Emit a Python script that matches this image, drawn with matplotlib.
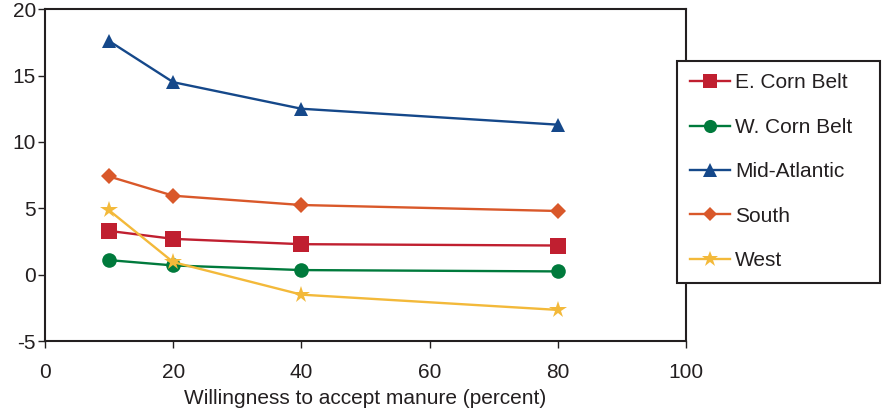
import matplotlib.pyplot as plt

plt.rcParams['font.family'] = ['Liberation Sans', 'DejaVu Sans']
plt.rcParams['axes.unicode_minus'] = False

# willingness to accept manure (percent)
willingness = [10, 20, 40, 80]

regions = ["E. Corn Belt", "W. Corn Belt", "Mid-Atlantic", "South", "West"]
e_corn_belt = [3.3, 2.7, 2.3, 2.2]
w_corn_belt = [1.1, 0.7, 0.35, 0.25]
mid_atlantic = [17.6, 14.5, 12.5, 11.3]
south = [7.4, 5.95, 5.25, 4.8]
west = [4.85, 0.95, -1.5, -2.65]

series = [e_corn_belt, w_corn_belt, mid_atlantic, south, west]
colors = ["#C01F30", "#007A3C", "#15488A", "#D9582A", "#F3B93A"]
markers = ["s", "o", "^", "D", "*"]
sizes = [11, 10.5, 10.5, 8, 13]
ink = "#231f20"

fig = plt.figure(figsize=(8.82, 4.16), dpi=100)
ax = fig.add_axes([0.051, 0.180, 0.7268, 0.798])

for name, vals, c, m, s in zip(regions, series, colors, markers, sizes):
    ax.plot(willingness, vals, color=c, marker=m, markersize=s,
            linewidth=1.7, label=name, markeredgewidth=0)

ax.set_xlim(0, 100)
ax.set_ylim(-5, 20)
ax.set_xticks([0, 20, 40, 60, 80, 100])
ax.set_yticks([-5, 0, 5, 10, 15, 20])
ax.tick_params(labelsize=15, length=5, width=1, color=ink, labelcolor=ink)
ax.tick_params(axis="x", pad=11)
ax.tick_params(axis="y", pad=1.5)
for sp in ax.spines.values():
    sp.set_linewidth(1.5)
    sp.set_color(ink)
ax.set_xlabel("Willingness to accept manure (percent)", fontsize=15,
              color=ink, labelpad=5)

x0, x1 = 677 / 882, 880 / 882
y1, y0 = 1 - 61 / 416, 1 - 282 / 416
leg = fig.legend(loc="upper left", bbox_to_anchor=(x0, y0, x1 - x0, y1 - y0),
                 mode="expand", fontsize=15, frameon=True, fancybox=False,
                 framealpha=1, edgecolor=ink, labelspacing=1.22,
                 handlelength=1.95, handletextpad=0.25, borderpad=0.6,
                 borderaxespad=0, markerscale=0.9)
leg.get_frame().set_linewidth(1.5)
for t in leg.get_texts():
    t.set_color(ink)

plt.savefig("out.png", dpi=100)
